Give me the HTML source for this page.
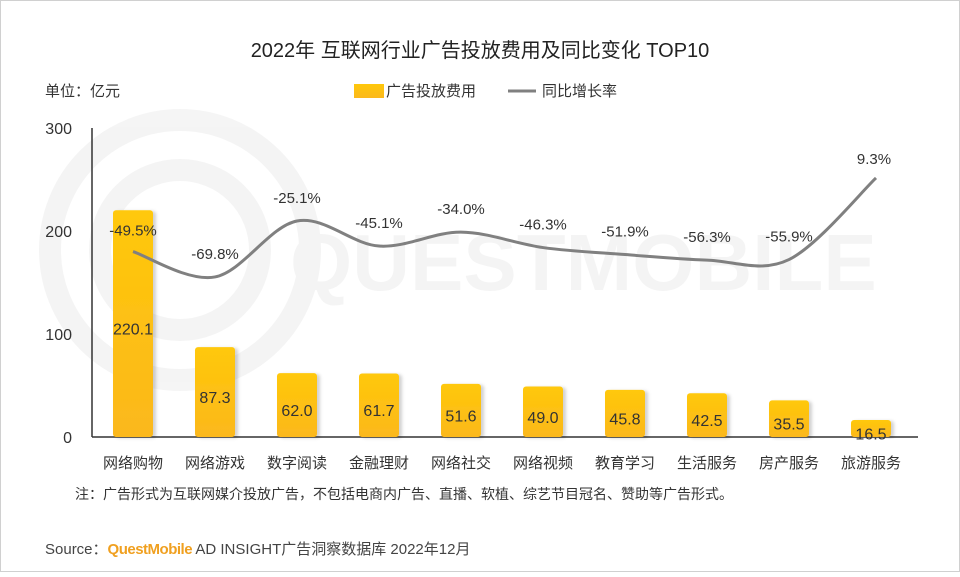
<!DOCTYPE html>
<html><head><meta charset="utf-8"><style>
body{margin:0;background:#fff;}
svg text{font-family:"Liberation Sans","Noto Sans CJK SC",sans-serif;}
</style></head><body>
<svg width="960" height="572" viewBox="0 0 960 572" xmlns="http://www.w3.org/2000/svg">
<defs>
<linearGradient id="bg" x1="0" y1="0" x2="0" y2="1"><stop offset="0" stop-color="#ffc80a"/><stop offset="1" stop-color="#fbb81c"/></linearGradient>
<filter id="sh" x="-20%" y="-10%" width="150%" height="120%"><feDropShadow dx="3" dy="1" stdDeviation="1.5" flood-color="#000" flood-opacity="0.18"/></filter>
</defs>
<rect x="0.5" y="0.5" width="959" height="571" fill="#fff" stroke="#d0d0d0"/>
<g opacity="0.04">
<circle cx="180" cy="250" r="130" fill="none" stroke="#000" stroke-width="22"/>
<circle cx="180" cy="250" r="80" fill="none" stroke="#000" stroke-width="22"/>
<text x="290" y="290" font-size="80" font-weight="bold" fill="#000">QUESTMOBILE</text>
</g>
<text x="480" y="57" text-anchor="middle" font-size="20" fill="#222">2022年 互联网行业广告投放费用及同比变化 TOP10</text>
<text x="45" y="96" font-size="15" fill="#333">单位：亿元</text>
<g><rect x="354" y="84" width="30" height="14" fill="url(#bg)"/><text x="386" y="96" font-size="15" fill="#333">广告投放费用</text></g>
<g><line x1="508" y1="91" x2="536" y2="91" stroke="#808080" stroke-width="3"/><text x="542" y="96" font-size="15" fill="#333">同比增长率</text></g>
<g id="yaxis"></g>
<g id="bars"></g>
<g id="line"></g>
<g id="xlabels"></g>
<text x="75" y="499" font-size="14" fill="#333">注：广告形式为互联网媒介投放广告，不包括电商内广告、直播、软植、综艺节目冠名、赞助等广告形式。</text>
<text x="45" y="554" font-size="15" fill="#444">Source：<tspan fill="#f0a020" font-weight="bold" letter-spacing="-0.5">QuestMobile</tspan> AD INSIGHT广告洞察数据库 2022年12月</text>
</svg>
<script>
const categories=["网络购物","网络游戏","数字阅读","金融理财","网络社交","网络视频","教育学习","生活服务","房产服务","旅游服务"];
const spend=[220.1,87.3,62.0,61.7,51.6,49.0,45.8,42.5,35.5,16.5];
const growth=[-49.5,-69.8,-25.1,-45.1,-34.0,-46.3,-51.9,-56.3,-55.9,9.3];
const yTicks=[0,100,200,300];
const NS="http://www.w3.org/2000/svg";
function mk(t,a,p){const e=document.createElementNS(NS,t);for(const k in a)e.setAttribute(k,a[k]);p.appendChild(e);return e;}
const y0=437,ppu=103/100;
function yS(v){return y0-v*ppu;}
function yG(v){return 189.6-v*1.2516;}
function xC(i){return 133+i*82;}
const ya=document.getElementById('yaxis');
mk('line',{x1:92,y1:128,x2:92,y2:y0,stroke:'#333','stroke-width':1.5},ya);
mk('line',{x1:92,y1:y0,x2:918,y2:y0,stroke:'#333','stroke-width':1.5},ya);
yTicks.forEach(t=>{const e=mk('text',{x:72,y:yS(t)+6,'text-anchor':'end','font-size':16,fill:'#333'},ya);e.textContent=t;

});
const bg=document.getElementById('bars');
spend.forEach((v,i)=>{const r=mk('rect',{x:xC(i)-20,y:yS(v),width:40,height:y0-yS(v),rx:3,fill:'url(#bg)',filter:'url(#sh)'},bg);


const t=mk('text',{x:xC(i),y:(yS(v)+y0)/2+11,'text-anchor':'middle','font-size':16,fill:'#333'},bg);t.textContent=v.toFixed(1);

});
const lg=document.getElementById('line');
const pts=growth.map((v,i)=>[xC(i)+(i===9?5:0),yG(v)]);
let d='M'+pts[0][0]+','+pts[0][1];
for(let i=0;i<pts.length-1;i++){const p0=pts[Math.max(0,i-1)],p1=pts[i],p2=pts[i+1],p3=pts[Math.min(pts.length-1,i+2)];
d+=` C${p1[0]+(p2[0]-p0[0])/6},${p1[1]+(p2[1]-p0[1])/6} ${p2[0]-(p3[0]-p1[0])/6},${p2[1]-(p3[1]-p1[1])/6} ${p2[0]},${p2[1]}`;}
const pl=mk('path',{d:d,fill:'none',stroke:'#808080','stroke-width':3},lg);


growth.forEach((v,i)=>{const t=mk('text',{x:pts[i][0]-(i===9?2:0),y:pts[i][1]-(i===9?14:18)-(i===0?-2:0),'text-anchor':'middle','font-size':15,fill:'#333'},lg);t.textContent=v.toFixed(1)+'%';

});
const xl=document.getElementById('xlabels');
categories.forEach((c,i)=>{const t=mk('text',{x:xC(i),y:468,'text-anchor':'middle','font-size':15,fill:'#333'},xl);t.textContent=c;

});
</script>
</body></html>
